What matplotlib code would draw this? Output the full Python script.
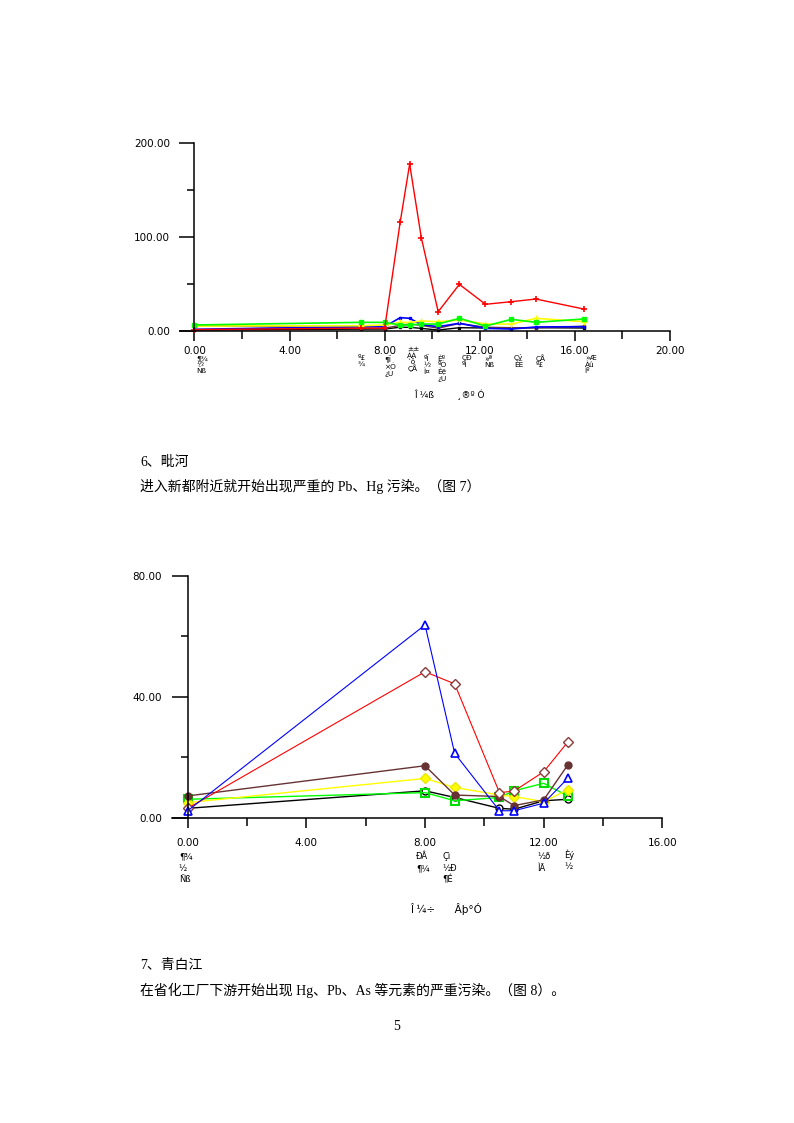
import matplotlib
matplotlib.use("Agg")
import matplotlib.pyplot as plt
from matplotlib.ticker import MultipleLocator, FormatStrFormatter

# ---- chart 1 (fu he) ----
x1 = [0, 7.0, 8.0, 8.65, 9.05, 9.54, 10.25, 11.14, 12.24, 13.33, 14.36, 16.37]
red1 = [1.5, 3.0, 3.0, 115.6, 177.6, 99.3, 20.5, 49.6, 28.4, 31.2, 34.0, 23.4]
green1 = [6.4, 9.2, 9.2, 6.4, 6.4, 7.4, 7.4, 13.5, 5.3, 12.4, 9.2, 12.8]
yellow1 = [5.3, 5.6, 6.4, 9.2, 9.0, 10.6, 9.9, 11.7, 7.4, 7.4, 13.5, 9.9]
blue1 = [1.8, 4.6, 4.6, 14.2, 13.5, 6.8, 4.6, 8.2, 2.8, 2.1, 4.3, 4.6]
black1 = [1.0, 2.0, 2.1, 4.0, 3.9, 2.8, 1.0, 3.5, 3.2, 3.2, 3.5, 3.2]
brown1 = [6.0, 3.0, 3.0, 6.0, 7.5, 6.0, 3.0, 8.0, 4.0, 3.5, 3.5, 5.0]
site_labels1 = ["¶¾\n½\nÑß", "º£\n¾", "¶Ï\n×Ó\n¿Ú", "±±\nÀÀ\n`ô\nÇÅ", "ºÏ\n½\nÌ¤",
                "Èº\nºÓ\nÈë\n¿Ú", "ÇÐ\nºÌ", "»ª\nÑß", "Çý\nÈË", "ÇÅ\nº£", "»Æ\nÀû\nÌº"]
site_pos1 = [0.08, 6.86, 8.0, 8.95, 9.65, 10.22, 11.24, 12.2, 13.43, 14.36, 16.42]
site_drop1 = [17.5, 17.5, 17.5, 11, 17.5, 17.5, 17.5, 17.5, 16.5, 16.5, 17.5]
title1 = "Î ¼ß        ¸®º Ó"

# ---- chart 2 (pi he) ----
x2 = [0, 8.0, 9.0, 10.51, 11.0, 12.0, 12.81]
blue2 = [2.3, 63.8, 21.3, 2.3, 2.3, 4.8, 13.0]
red2 = [3.1, 48.3, 44.3, 8.3, 8.8, 15.2, 25.0]
brown2 = [7.2, 17.2, 7.5, 7.0, 4.0, 5.9, 17.4]
yellow2 = [5.0, 13.0, 10.0, 7.5, 7.0, 5.3, 9.2]
green2 = [6.1, 8.3, 5.6, 6.7, 8.9, 11.4, 7.2]
black2 = [3.1, 8.9, 6.7, 3.1, 2.8, 5.6, 6.1]
site_labels2 = ["¶¾\n½\nÑß", "ÐÂ\n¶¼", "Çì\n½Ð\n¶É", "½ð\nÌÃ", "Èý\n½"]
site_pos2 = [-0.3, 7.7, 8.6, 11.8, 12.7]
site_drop2 = [25, 25, 25, 25, 23]
title2 = "Î ¼÷      Âþ°Ó"

BROWN = "#663333"
W, H = 794, 1123

fig = plt.figure(figsize=(7.94, 11.23), dpi=100)
plt.rcParams['font.family'] = ['DejaVu Sans']


def style_axes(ax, xmin, xmax, ymax, ymaj, xlen, ylen, xpad):
    ax.set_xlim(xmin, xmax)
    ax.set_ylim(0, ymax)
    ax.spines['top'].set_visible(False)
    ax.spines['right'].set_visible(False)
    ax.spines['left'].set_position(('data', 0))
    for s in ('left', 'bottom'):
        ax.spines[s].set_linewidth(1.1)
    ax.xaxis.set_major_locator(MultipleLocator(4))
    ax.xaxis.set_minor_locator(MultipleLocator(2))
    ax.yaxis.set_major_locator(MultipleLocator(ymaj))
    ax.yaxis.set_minor_locator(MultipleLocator(ymaj / 2))
    ax.xaxis.set_major_formatter(FormatStrFormatter('%.2f'))
    ax.yaxis.set_major_formatter(FormatStrFormatter('%.2f'))
    ax.tick_params(axis='x', which='major', direction='out', length=xlen, width=1.1,
                   pad=xpad, labelsize=7.5)
    ax.tick_params(axis='x', which='minor', direction='out', length=xlen * 0.8, width=1.1)
    ax.tick_params(axis='y', which='major', direction='out', length=ylen, width=1.1,
                   pad=7, labelsize=7.5)
    ax.tick_params(axis='y', which='minor', direction='out', length=ylen * 0.45, width=1.1)
    ax.set_facecolor('none')


# chart 1
ax1 = fig.add_axes([179.5 / W, 1 - 331 / H, 490.5 / W, 188 / H])
style_axes(ax1, -0.63, 20, 200, 100, 7.5, 10.8, 3.3)
ax1.plot(x1, black1, color='black', lw=1.0, marker='s', ms=2, clip_on=False)
ax1.plot(x1, brown1, color=BROWN, lw=1.0, marker='s', ms=2, clip_on=False)
ax1.plot(x1, blue1, color='#0000ff', lw=1.2, marker='s', ms=2, clip_on=False)
ax1.plot(x1, yellow1, color='#ffff00', lw=1.2, marker='+', ms=4, clip_on=False)
ax1.plot(x1, green1, color='#00ff00', lw=1.2, marker='s', ms=3, clip_on=False)
ax1.plot(x1, red1, color='#ff0000', lw=1.0, marker='+', ms=4, mew=1.2, clip_on=False)
for lab, xp, dp in zip(site_labels1, site_pos1, site_drop1):
    ax1.annotate(lab, xy=(xp, 0), xycoords=('data', 'axes fraction'),
                 xytext=(0, -dp), textcoords='offset points', ha='left', va='top',
                 fontsize=5.3, linespacing=1.0)
fig.text(449 / W, 1 - 395 / H, title1, ha='center', va='center', fontsize=6.5)

# chart 2
ax2 = fig.add_axes([171.7 / W, 1 - 817.7 / H, 490.6 / W, 241.7 / H])
style_axes(ax2, -0.54, 16, 80, 40, 7.5, 11.5, 7)
ax2.plot(x2, black2, color='black', lw=1.0, marker='o', ms=5, mfc='white', mec='black',
         clip_on=False)
ax2.plot(x2, green2, color='#00ff00', lw=1.0, marker='s', ms=6, mfc='none', mec='#00dd00',
         mew=1.5, clip_on=False)
ax2.plot(x2, yellow2, color='#ffff00', lw=1.0, marker='D', ms=5, mfc='#ffff00',
         mec='#e8e800', clip_on=False)
ax2.plot(x2, brown2, color=BROWN, lw=1.0, marker='o', ms=5, mfc=BROWN, mec=BROWN,
         clip_on=False)
ax2.plot(x2, red2, color='#ff0000', lw=0.8, marker='D', ms=5, mfc='white', mec='#8b3a3a',
         clip_on=False)
ax2.plot(x2, blue2, color='#0000ff', lw=0.8, marker='^', ms=6, mfc='white', mec='#0000ff',
         mew=1.2, clip_on=False)
for lab, xp, dp in zip(site_labels2, site_pos2, site_drop2):
    ax2.annotate(lab, xy=(xp, 0), xycoords=('data', 'axes fraction'),
                 xytext=(0, -dp), textcoords='offset points', ha='left', va='top',
                 fontsize=6, linespacing=1.35)
fig.text(446 / W, 1 - 909 / H, title2, ha='center', va='center', fontsize=7.5)

# page text
body = ['Liberation Serif', 'Noto Sans CJK SC']
fig.text(140 / W, 1 - 462 / H, "6、毗河", family=body, fontsize=10, va='center')
fig.text(140 / W, 1 - 486 / H, "进入新都附近就开始出现严重的 Pb、Hg 污染。（图 7）",
         family=body, fontsize=10, va='center')
fig.text(140 / W, 1 - 966 / H, "7、青白江", family=body, fontsize=10, va='center')
fig.text(140 / W, 1 - 990 / H,
         "在省化工厂下游开始出现 Hg、Pb、As 等元素的严重污染。（图 8）。",
         family=body, fontsize=10, va='center')
fig.text(397 / W, 1 - 1026 / H, "5", family=body, fontsize=10, ha='center', va='center')

fig.savefig("out.png", dpi=100)
